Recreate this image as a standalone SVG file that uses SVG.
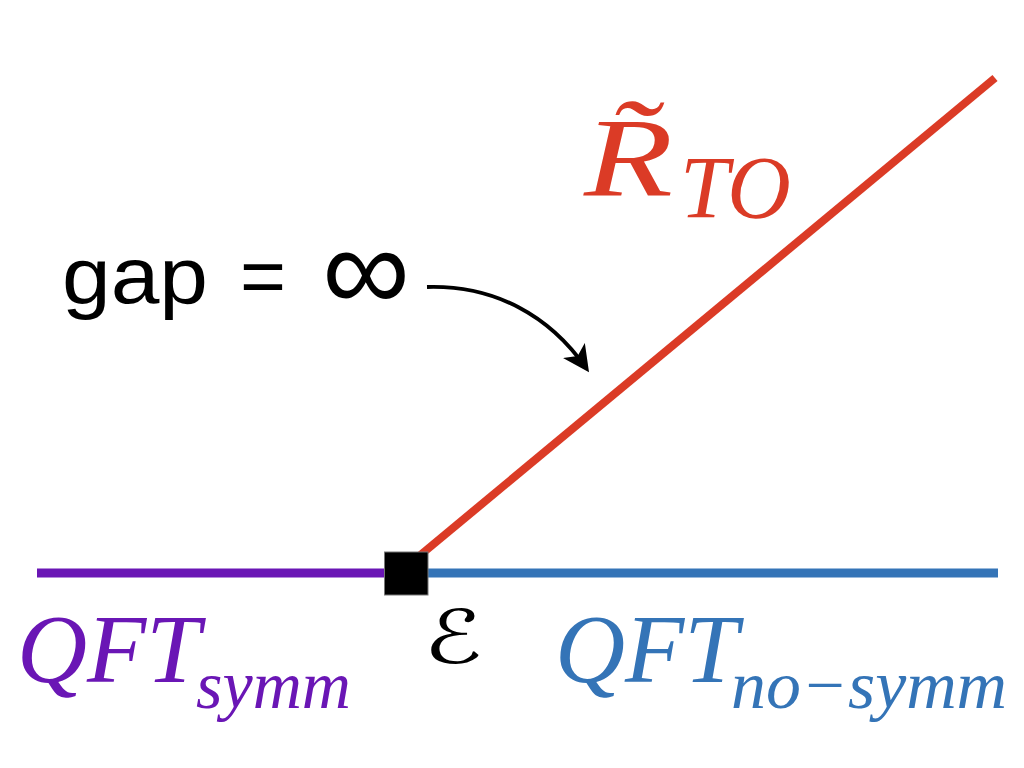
<svg xmlns="http://www.w3.org/2000/svg" width="1024" height="768" viewBox="0 0 1024 768">
  <style>
    .math { font-family: "Liberation Serif", "DejaVu Serif", serif; font-style: italic; }
    .sans { font-family: "Liberation Sans", Arial, sans-serif; fill: #000; }
  </style>
  <defs>
    <marker id="arrow" viewBox="0 0 10 10" refX="8" refY="5" markerWidth="7" markerHeight="7" orient="auto" markerUnits="strokeWidth">
      <path d="M0,0 L10,5 L0,10 L2.5,5 Z" fill="#000"/>
    </marker>
  </defs>
  <rect width="1024" height="768" fill="#fff"/>
  <g id="connectors">
    <line id="qft-symm-line" x1="37" y1="573" x2="390" y2="573" stroke="#6a16b5" stroke-width="9"/>
    <line id="qft-nosymm-line" x1="420" y1="573" x2="998" y2="573" stroke="#3474b7" stroke-width="9"/>
    <line id="rto-line" x1="412" y1="562" x2="995" y2="78" stroke="#db3b26" stroke-width="8"/>
    <path id="gap-arrow" d="M427,287 C495,285 550,316 586,368" fill="none" stroke="#000" stroke-width="3.8" marker-end="url(#arrow)"/>
  </g>
  <g id="node-E">
    <rect x="384.5" y="552" width="43.5" height="43" fill="#000" stroke="#777" stroke-width="1"/>
    <text x="0" y="0" transform="translate(453,663) scale(1.25,0.95)" text-anchor="middle" font-family="'DejaVu Serif', 'DejaVu Sans', serif" font-size="78" fill="#000">ℰ</text>
  </g>
  <g id="label-gap">
    <text class="sans" x="62" y="303" font-size="80" textLength="146" lengthAdjust="spacingAndGlyphs">gap</text>
    <text class="sans" x="240" y="303" font-size="80" textLength="46" lengthAdjust="spacingAndGlyphs">=</text>
    <text class="sans" x="322" y="311" font-size="122" font-family="'DejaVu Sans', sans-serif" textLength="88" lengthAdjust="spacingAndGlyphs">∞</text>
  </g>
  <g id="label-rto" fill="#db3b26">
    <text class="math" x="0" y="0" transform="translate(584,195) scale(1.3,1)" font-size="112">R&#x0303;</text>
    <text class="math" x="680" y="217" font-size="88">TO</text>
  </g>
  <g id="label-qft-symm" fill="#6a16b5">
    <text class="math" x="17" y="682" font-size="97">QFT</text>
    <text class="math" x="196" y="708" font-size="68">symm</text>
  </g>
  <g id="label-qft-nosymm" fill="#3474b7">
    <text class="math" x="555" y="682" font-size="97">QFT</text>
    <text class="math" x="731" y="708" font-size="68" textLength="276" lengthAdjust="spacingAndGlyphs">no−symm</text>
  </g>
</svg>
